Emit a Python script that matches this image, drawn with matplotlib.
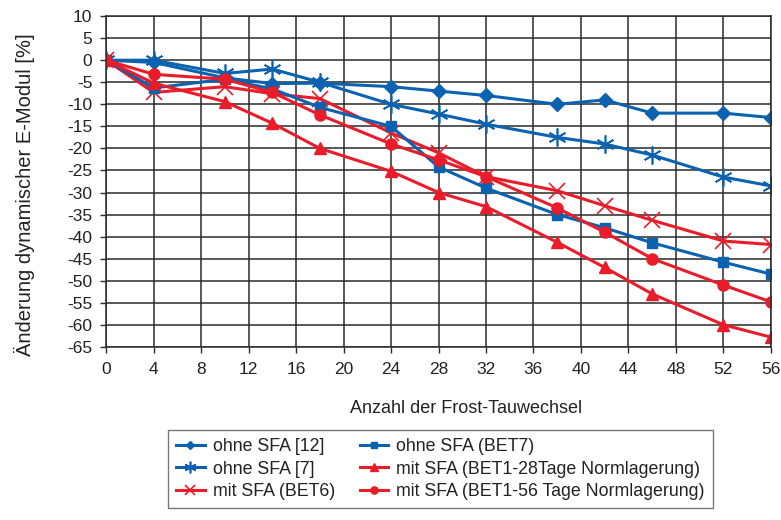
import matplotlib
matplotlib.use("agg")
import matplotlib.pyplot as plt

plt.rcParams['font.family'] = ['Liberation Sans', 'DejaVu Sans']
plt.rcParams['axes.unicode_minus'] = False

cycles = [0, 4, 10, 14, 18, 24, 28, 32, 38, 42, 46, 52, 56]

ohne_sfa_12 = [0, -0.5, -4, -5.3, -5.2, -6, -7, -8, -10, -9, -12, -12, -13]
ohne_sfa_7 = [0, 0, -3, -2, -5, -10, -12.2, -14.5, -17.5, -19, -21.5, -26.5, -28.5]
ohne_sfa_bet7 = [0, -6.3, -4.3, -6.5, -10.7, -15, -24.2, -29, -35, -38, -41.4, -45.8, -48.5]
mit_sfa_bet1_28 = [0, -5.2, -9.4, -14.3, -20, -25.2, -30, -33.2, -41.3, -47, -53, -60, -62.8]
mit_sfa_bet6 = [0, -7.3, -6, -7.6, -8.7, -16.5, -21, -26.4, -29.6, -33, -36.3, -41, -41.8]
mit_sfa_bet1_56 = [0, -3.2, -4.3, -7.3, -12.4, -19, -22.6, -26.4, -33.5, -39, -45, -51, -54.8]

x_ticks = list(range(0, 57, 4))
y_ticks = list(range(-65, 11, 5))

blue = '#0b62b0'
red = '#ea1c2a'
txt = '#222222'

fig = plt.figure(figsize=(7.81, 5.2), dpi=100)
ax = fig.add_axes([0.136, 0.333, 0.851, 0.636])

lw = 2.2
h1, = ax.plot(cycles, ohne_sfa_12, color=blue, lw=lw, marker='D', ms=7, label='ohne SFA [12]')
h2, = ax.plot(cycles, ohne_sfa_7, color=blue, lw=lw, marker=(6, 2, 0), ms=13, mew=1.2, label='ohne SFA [7]')
h3, = ax.plot(cycles, mit_sfa_bet6, color=red, lw=lw, marker='x', ms=11, mew=1.2, label='mit SFA (BET6)')
h4, = ax.plot(cycles, ohne_sfa_bet7, color=blue, lw=lw, marker='s', ms=7.5, label='ohne SFA (BET7)')
h5, = ax.plot(cycles, mit_sfa_bet1_28, color=red, lw=lw, marker='^', ms=9, label='mit SFA (BET1-28Tage Normlagerung)')
h6, = ax.plot(cycles, mit_sfa_bet1_56, color=red, lw=lw, marker='o', ms=8, label='mit SFA (BET1-56 Tage Normlagerung)')

ax.set_xlim(0, 56)
ax.set_ylim(-65, 10)
ax.set_xticks(x_ticks)
ax.set_yticks(y_ticks)
ax.grid(True, color='#2a2a2a', lw=1.1)
ax.set_axisbelow(True)
for s in ax.spines.values():
    s.set_color('#2a2a2a')
    s.set_linewidth(1.1)
ax.tick_params(labelsize=12.5, length=4, width=1, color='#2a2a2a', labelcolor=txt)
ax.tick_params(axis='x', pad=7)
ax.tick_params(axis='y', pad=6)
ax.set_xlabel('Anzahl der Frost-Tauwechsel', fontsize=13, color=txt)
ax.set_ylabel('Änderung dynamischer E-Modul [%]', fontsize=14.5, color=txt)
ax.xaxis.set_label_coords(0.541, -0.16)
ax.yaxis.set_label_coords(-0.107, 0.46)

leg = fig.legend(handles=[h1, h2, h3, h4, h5, h6], ncol=2, loc='lower left',
                 bbox_to_anchor=(0.204, 0.006), fontsize=12.8, frameon=True,
                 fancybox=False, edgecolor='#555555', handlelength=1.6,
                 columnspacing=1.4, handletextpad=0.45, labelspacing=0.3,
                 borderpad=0.45, markerscale=0.65)
leg.get_frame().set_linewidth(1.0)
for t in leg.get_texts():
    t.set_color(txt)

plt.savefig("out.png", dpi=100)
